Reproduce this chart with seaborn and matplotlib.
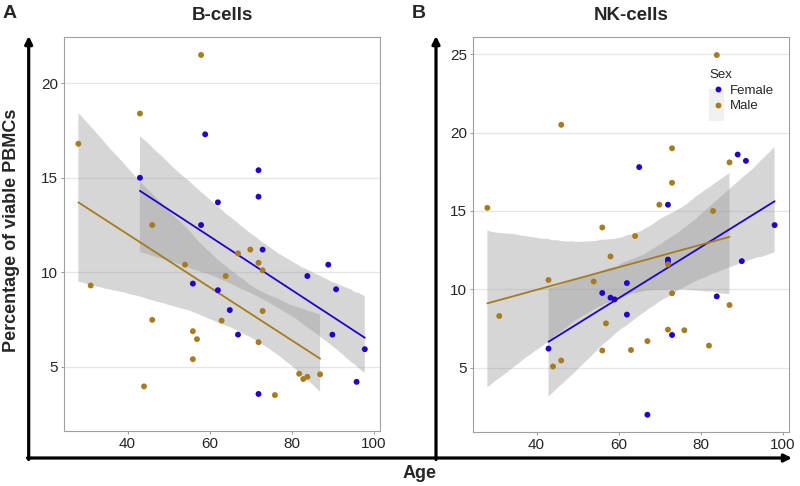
import numpy as np
import pandas as pd
import seaborn as sns
import matplotlib.pyplot as plt
from matplotlib.patches import Rectangle

# B-cells
b_female_age = [58.9, 43.0, 71.9, 71.9, 62.0, 57.9, 72.9, 88.9, 83.8, 90.8, 55.9, 62.0, 64.9, 66.9, 89.9, 97.8, 95.8, 71.9]
b_female_val = [17.3, 15.0, 15.4, 14.0, 13.7, 12.5, 11.2, 10.4, 9.8, 9.1, 9.4, 9.05, 8.0, 6.7, 6.7, 5.93, 4.2, 3.56]
b_male_age = [28.0, 31.0, 43.0, 44.0, 46.0, 46.0, 54.0, 55.9, 55.9, 56.9, 57.9, 62.9, 63.9, 66.9, 69.9, 71.9, 71.9, 72.9, 72.9, 75.9, 81.8, 82.8, 83.8, 86.9]
b_male_val = [16.8, 9.3, 18.4, 3.96, 12.5, 7.48, 10.4, 6.88, 5.4, 6.46, 21.5, 7.44, 9.8, 11.0, 11.2, 10.5, 6.3, 10.1, 7.95, 3.5, 4.63, 4.35, 4.47, 4.6]

# NK-cells
nk_female_age = [65.0, 72.0, 89.0, 91.0, 98.0, 72.0, 72.0, 90.0, 62.0, 56.0, 58.0, 59.0, 83.9, 62.0, 73.0, 42.9, 67.0]
nk_female_val = [17.8, 15.4, 18.6, 18.2, 14.1, 11.9, 11.75, 11.8, 10.4, 9.77, 9.47, 9.36, 9.55, 8.39, 7.09, 6.22, 2.0]
nk_male_age = [83.9, 46.0, 73.0, 73.0, 87.0, 69.9, 83.0, 28.0, 56.0, 64.0, 58.0, 72.0, 42.9, 53.9, 73.0, 87.0, 30.9, 56.9, 72.0, 76.0, 67.0, 56.0, 63.0, 82.0, 46.0, 44.0]
nk_male_val = [24.95, 20.5, 19.0, 16.8, 18.1, 15.4, 15.0, 15.2, 13.95, 13.4, 12.1, 11.6, 10.6, 10.5, 9.75, 9.0, 8.3, 7.83, 7.43, 7.39, 6.7, 6.1, 6.13, 6.41, 5.46, 5.08]

sex_colors = {"Female": "#2200cc", "Male": "#a67c1e"}


def make_df(fa, fv, ma, mv):
    return pd.DataFrame({
        "Age": fa + ma,
        "Value": fv + mv,
        "Sex": ["Female"] * len(fa) + ["Male"] * len(ma),
    })


b_df = make_df(b_female_age, b_female_val, b_male_age, b_male_val)
nk_df = make_df(nk_female_age, nk_female_val, nk_male_age, nk_male_val)

sns.set_style("white")
plt.rcParams["font.family"] = ["Liberation Sans", "DejaVu Sans"]

fig = plt.figure(figsize=(8, 4.86), dpi=100)
ax1 = fig.add_axes([64 / 800, 1 - 431 / 486, 316 / 800, 394 / 486])
ax2 = fig.add_axes([473 / 800, 1 - 432 / 486, 316 / 800, 395 / 486])


def panel(ax, df, title, ylim, yticks, legend):
    for sex in ["Female", "Male"]:
        sub = df[df["Sex"] == sex]
        n_before = len(ax.collections)
        sns.regplot(data=sub, x="Age", y="Value", ax=ax, scatter=False,
                    color=sex_colors[sex], ci=95, n_boot=2000, seed=1,
                    line_kws={"lw": 1.3, "zorder": 2})
        # grey ribbon like geom_smooth
        for coll in ax.collections[n_before:]:
            coll.set_facecolor("#999999")
            coll.set_alpha(0.4)
            coll.set_edgecolor("none")
            coll.set_zorder(1)
    sns.scatterplot(data=df, x="Age", y="Value", hue="Sex", palette=sex_colors,
                    hue_order=["Female", "Male"], s=18, linewidth=0, ax=ax,
                    zorder=3, legend=legend)
    ax.set_xlim(24.5, 101.5)
    ax.set_ylim(*ylim)
    ax.set_xticks([40, 60, 80, 100])
    ax.set_yticks(yticks)
    ax.set_xlabel("")
    ax.set_ylabel("")
    ax.grid(axis="y", color="#e6e6e6", lw=0.9)
    ax.grid(axis="x", visible=False)
    ax.set_axisbelow(True)
    for sp in ax.spines.values():
        sp.set_color("#a0a0a0")
        sp.set_linewidth(0.8)
    ax.tick_params(axis="both", labelsize=11, length=2.5, width=0.6,
                   color="#888888", pad=2, bottom=True, left=True)
    ax.set_title(title, fontsize=13.5, fontweight="bold", pad=12)


panel(ax1, b_df, "B-cells", (1.6, 22.45), [5, 10, 15, 20], False)
panel(ax2, nk_df, "NK-cells", (0.9, 26.1), [5, 10, 15, 20, 25], True)

leg = ax2.legend(title="Sex", loc="upper left", bbox_to_anchor=(0.728, 0.935),
                 frameon=False, fontsize=9.5, title_fontsize=9.5,
                 handletextpad=0.3, labelspacing=0.25, borderpad=0,
                 handlelength=1.2, alignment="left")
leg.set_zorder(10)

# overlay for the outer arrows and labels, in pixel coordinates
ov = fig.add_axes([0, 0, 1, 1])
ov.set_xlim(0, 800)
ov.set_ylim(486, 0)
ov.axis("off")
ov.patch.set_alpha(0)

# grey key background behind the legend markers
ax2.add_patch(Rectangle((709, 89), 15, 32, color="#f0f0f0", lw=0,
                        transform=ov.transData, clip_on=False, zorder=4))

arrow = dict(arrowstyle="-|>", lw=2.3, color="black", mutation_scale=11,
             shrinkA=0, shrinkB=0)
ov.annotate("", xy=(28.7, 36), xytext=(28.7, 459.5), arrowprops=arrow)
ov.annotate("", xy=(436, 36), xytext=(436, 459.5), arrowprops=arrow)
ov.annotate("", xy=(792, 458), xytext=(27.5, 458), arrowprops=arrow)

ov.text(10, 14, "A", fontsize=14, fontweight="bold", ha="center", va="center")
ov.text(419, 14, "B", fontsize=14, fontweight="bold", ha="center", va="center")
ov.text(420, 473, "Age", fontsize=13, fontweight="bold", ha="center", va="center")
ov.text(12, 230, "Percentage of viable PBMCs", fontsize=13, fontweight="bold",
        ha="center", va="center", rotation=90)

plt.savefig("out.png", dpi=100)
